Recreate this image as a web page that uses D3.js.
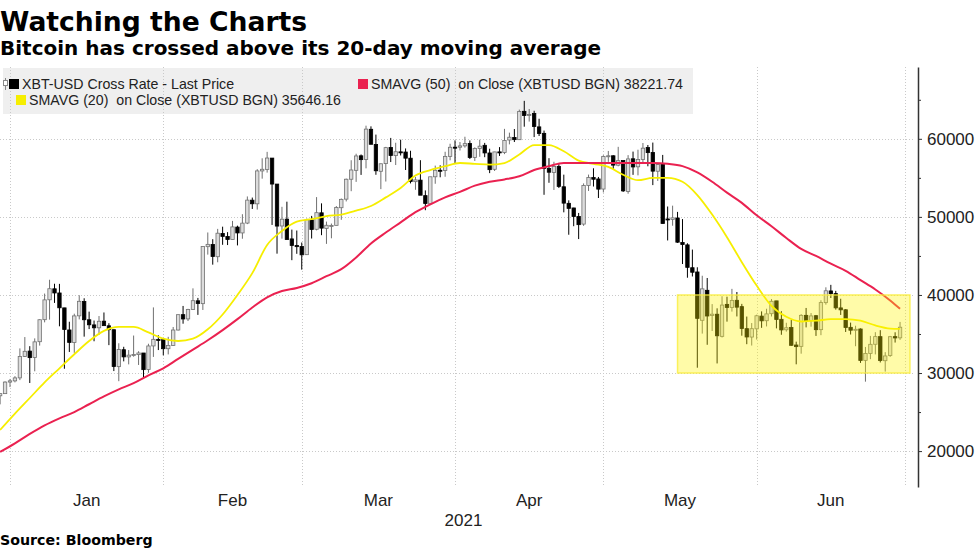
<!DOCTYPE html>
<html><head><meta charset="utf-8">
<script src="https://cdn.jsdelivr.net/npm/d3@7"></script>
<style>
body{margin:0;background:#fff;}
svg{display:block;}
.pre{white-space:pre;}
</style></head><body>
<svg id="c" width="977" height="549"></svg>
<script>
// ---------- data ----------
const title = "Watching the Charts";
const subtitle = "Bitcoin has crossed above its 20-day moving average";
const sourceText = "Source: Bloomberg";
const firstDate = "2020-12-29";
// daily [open, high, low, close], XBT-USD, from 2020-12-29 to 2021-06-29
const ohlc = [
[27081,27370,25987,27362],[27360,28937,27360,28841],[28841,29244,28201,29001],
[28994,29600,28803,29374],[29376,33155,29091,32127],[32129,34608,32052,32782],[32810,33440,28722,31971],
[31977,34437,30221,33992],[34013,36879,33514,36824],[36833,40180,36491,39371],[39381,41946,36838,40797],
[40788,41436,38980,40254],[40254,41420,35984,38356],[38346,38346,30549,35566],[35516,36568,32697,33922],
[33915,37600,32584,37316],[37325,39966,36868,39187],[39156,39577,34659,36825],[36821,37864,35633,36178],
[36163,36722,34069,35792],[35792,37299,34883,36630],[36642,37755,36069,36069],[36050,36378,33570,35548],
[35549,35553,30250,30826],[30817,33812,28953,33005],[32985,33360,31493,32067],[32064,32944,31106,32289],
[32285,34802,32087,32366],[32358,32794,31030,32569],[32565,32565,29367,30432],[30441,33750,30023,33466],
[33470,38406,32064,34316],[34295,34834,32940,34269],[34270,34288,32270,33114],
[33115,34638,32384,33537],[33533,35896,33489,35510],[35510,37480,35443,37473],[37476,38592,36317,36926],
[36931,38225,36658,38144],[38138,40846,38138,39266],[39250,39621,37446,38903],[38886,46204,38076,46196],
[46184,48003,45166,46481],[46469,47145,43881,44918],[44898,48463,44187,47909],[47877,48745,46424,47504],
[47491,48047,46392,47105],[47114,49487,47114,48717],[48696,48875,46347,47945],[47944,50341,47201,49199],
[49207,52619,49072,52149],[52140,52474,51015,51679],[51675,56113,50937,55888],[55887,57506,54894,56099],
[56068,58330,55672,57539],[57532,57533,48967,54207],[54204,54204,45290,48824],[48835,51290,47213,49705],
[49709,51948,47093,47093],[47180,48371,44454,46339],[46344,48254,45269,46188],[46195,46717,43241,45137],
[45159,49784,45115,49631],[49612,50127,47228,48378],[48415,52535,48274,50538],[50522,51735,47656,48561],
[48527,49396,46542,48927],[48899,49147,47257,48912],[48918,51384,48918,51206],[51175,52356,49624,52246],
[52273,54904,51981,54824],[54824,57258,53291,56008],[55963,58091,54484,57805],[57821,57996,55376,57332],
[57343,61683,56217,61243],[61221,61597,59302,59302],[59267,60540,55393,55907],[55840,56833,53555,56804],
[56825,58969,54528,58870],[58893,60117,57023,57858],[57850,59498,56643,58346],[58332,59888,57867,58313],
[58309,58767,56005,57523],[57517,58471,54288,54529],[54512,55115,53470,54738],[54710,57263,52973,52774],
[52726,53392,50856,51704],[51683,55137,51579,55137],[55137,56568,54242,55974],[55974,56610,55072,55947],
[55947,58342,55140,57750],[57751,59369,57249,58918],[58931,59800,56873,58918],
[58926,59586,58505,59095],[59099,60267,58869,59384],[59398,59795,57413,57604],[57604,58913,57168,58758],
[58760,59891,57694,59057],[59171,59479,57646,58192],[58186,58731,55604,56049],[56099,58338,55879,58323],
[58326,58937,57807,58245],[58253,61276,58038,59794],[59846,60790,59289,60204],[60175,61254,59589,59893],
[59890,63742,59869,63503],[63523,64863,61554,62985],[63075,63821,62208,63110],[63258,63594,60222,61572],
[61529,62572,60361,60683],[60701,61057,52829,56216],[56191,57520,54368,55724],[55681,57062,53448,56473],
[56471,56757,53695,53906],[53857,55410,50583,51762],[51739,52120,47714,51093],[51143,51167,48806,50050],
[50053,50506,47159,49004],[49077,54288,48852,54021],[54030,55416,53319,55033],[55036,56228,53887,54824],
[54858,55115,52418,53555],[53568,57900,53129,57750],
[57714,58448,57052,57828],[57825,57902,56141,56631],[56620,58973,56478,57200],[57215,57215,53191,53333],
[53252,57912,52969,57424],[57441,58363,55382,56396],[56413,58606,55321,57356],[57352,59464,56975,58803],
[58877,59210,56482,58232],[58250,59519,54071,55859],[55847,56872,54608,56704],[56714,57939,49150,49150],
[49735,51330,46980,49716],[49682,51438,48868,49880],[49855,50639,46664,46760],[46716,49720,43963,46456],
[46415,46623,42207,43537],[43488,45812,42367,42909],[42944,43546,30681,37002],[36753,42462,35050,40782],
[40596,42172,33616,37304],[37371,38831,35383,37536],[37531,38289,31227,34770],[34700,39836,34551,38705],
[38795,39777,36581,38402],[38392,40782,37868,39294],[39316,40379,37247,38436],[38507,38856,34779,35698],
[35684,37234,33693,34617],[34607,36400,33520,35678],[35659,37469,34287,37332],
[37293,37896,35787,36684],[36699,38231,35966,37575],[37599,39478,37243,39188],[39242,39242,35717,36851],
[36880,37917,34900,35520],[35539,36436,35304,35797],[35835,36790,33480,33552],[33589,34017,31114,33380],
[33417,37537,32476,37389],[37390,38334,35847,36703],[36698,37681,35937,37314],[37341,37438,34752,35551],
[35555,39322,34848,39020],[39015,40978,38757,40534],[40516,41295,39609,40165],[40173,40528,38118,38349],
[38341,39513,37439,38093],[38100,38187,35256,35820],[35854,36457,34933,35484],[35563,36059,33432,35601],
[35641,35721,31295,31608],[31623,33340,28893,32510],[32515,34753,31773,33678],[33682,35236,32386,34663],
[34659,35487,31351,31595],[31577,32673,30184,32186],[32241,34749,32071,34650],[34663,35219,33902,34495],
[34507,36542,34252,35868]
];
// moving averages (USD)
const smaDates = ["2020-12-29","2021-01-01","2021-01-04","2021-01-07","2021-01-10","2021-01-13","2021-01-16",
"2021-01-19","2021-01-22","2021-01-25","2021-01-28","2021-01-31","2021-02-03","2021-02-06","2021-02-09",
"2021-02-12","2021-02-15","2021-02-18","2021-02-21","2021-02-24","2021-02-27","2021-03-02","2021-03-05",
"2021-03-08","2021-03-11","2021-03-14","2021-03-17","2021-03-20","2021-03-23","2021-03-26","2021-03-29",
"2021-04-01","2021-04-04","2021-04-07","2021-04-10","2021-04-13","2021-04-16","2021-04-19","2021-04-22",
"2021-04-25","2021-04-28","2021-05-01","2021-05-04","2021-05-07","2021-05-10","2021-05-13","2021-05-16",
"2021-05-19","2021-05-22","2021-05-25","2021-05-28","2021-05-31","2021-06-03","2021-06-06","2021-06-09",
"2021-06-12","2021-06-15","2021-06-18","2021-06-21","2021-06-24","2021-06-27","2021-06-29"];
const sma20 = [22700,24800,26800,28800,30600,32400,34100,35400,35900,35900,35200,34400,34100,34400,35600,
37500,40000,42800,46400,48200,49400,49700,50100,50300,50800,51400,52500,53700,55300,56000,56500,
56900,56800,56700,56900,58000,59200,59200,58400,57200,56800,56400,55400,54700,55000,55000,54500,
52800,50300,47400,44200,41200,38600,37200,36600,36700,36900,36900,36700,36100,35700,35646];
const sma50 = [19900,21000,22200,23300,24200,25000,26000,27000,27900,28700,29700,30600,31800,33000,34200,
35500,36900,38400,39700,40500,40900,41500,42400,43300,44800,46600,48000,49300,50600,51600,52500,
53200,54000,54500,54800,55200,56000,56500,56900,56900,56900,56900,56900,56900,56900,56800,56500,
55700,54500,53100,51800,50200,48800,47300,45900,45000,44000,43100,41900,40700,39300,38222];
const yTicks = [20000,30000,40000,50000,60000];
const yMinorTicks = [25000,35000,45000,55000,65000];
const monthStarts = ["2021-01-01","2021-02-01","2021-03-01","2021-04-01","2021-05-01","2021-06-01","2021-07-01"];
const monthLabels = ["Jan","Feb","Mar","Apr","May","Jun"];
const yearLabel = "2021";
const highlightDates = ["2021-05-16","2021-07-02"];
const highlightRange = [30000,40000];
const legendLabels = ["XBT-USD Cross Rate - Last Price",
  "SMAVG (20)  on Close (XBTUSD BGN) 35646.16",
  "SMAVG (50)  on Close (XBTUSD BGN) 38221.74"];

// ---------- drawing ----------
const parse = d3.utcParse("%Y-%m-%d");
const svg = d3.select("#c");
const FONT = "'Liberation Sans', Arial, sans-serif";
const BOLD = "'DejaVu Sans', Verdana, sans-serif";

const x = d3.scaleUtc().domain([parse(monthStarts[0]), parse(monthStarts[6])]).range([10, 905]);
const y = d3.scaleLinear().domain([15400, 69200]).range([487, 67]);
const barPos = d => x(d3.utcDay.offset(d, 1));

const start = parse(firstDate);
const candles = ohlc.map((r, i) => ({date: d3.utcDay.offset(start, i), o: r[0], h: r[1], l: r[2], c: r[3]}));

// titles
svg.append("text").attr("x", 0).attr("y", 31).attr("font-family", BOLD).attr("font-weight", "bold")
  .attr("font-size", 26.6).attr("fill", "#000").text(title);
svg.append("text").attr("x", 0).attr("y", 55).attr("font-family", BOLD).attr("font-weight", "bold")
  .attr("font-size", 20).attr("fill", "#000").text(subtitle);

// legend background
svg.append("rect").attr("x", 3).attr("y", 68).attr("width", 690).attr("height", 46).attr("fill", "#efefef");

// grid
const grid = svg.append("g").attr("stroke", "#c9c9c9").attr("stroke-width", 1).attr("stroke-dasharray", "1,2");
grid.selectAll("line.h").data(yTicks).join("line")
  .attr("x1", 0).attr("x2", 913).attr("y1", d => Math.round(y(d)) + 0.5).attr("y2", d => Math.round(y(d)) + 0.5);
grid.selectAll("line.v").data(monthStarts).join("line")
  .attr("x1", d => Math.round(x(parse(d))) + 0.5).attr("x2", d => Math.round(x(parse(d))) + 0.5)
  .attr("y1", 67).attr("y2", 487);

// candles
const plot = svg.append("g");
const bw = 3.4;
const cg = plot.selectAll("g.c").data(candles).join("g");
cg.append("line")
  .attr("x1", d => barPos(d.date)).attr("x2", d => barPos(d.date))
  .attr("y1", d => y(d.h)).attr("y2", d => y(d.l))
  .attr("stroke", d => d.c >= d.o ? "#707070" : "#000").attr("stroke-width", 1);
cg.append("rect")
  .attr("x", d => barPos(d.date) - bw / 2).attr("width", bw)
  .attr("y", d => y(Math.max(d.o, d.c)))
  .attr("height", d => Math.max(1, Math.abs(y(d.o) - y(d.c))))
  .attr("fill", d => d.c >= d.o ? "#dcdcdc" : "#000")
  .attr("stroke", d => d.c >= d.o ? "#707070" : "#000").attr("stroke-width", 0.8);

// moving averages
const line = d3.line().x(d => barPos(d.date)).y(d => y(d.v)).curve(d3.curveMonotoneX);
const s20 = smaDates.map((d, i) => ({date: parse(d), v: sma20[i]}));
const s50 = smaDates.map((d, i) => ({date: parse(d), v: sma50[i]}));
plot.append("path").datum(s20).attr("d", line).attr("fill", "none").attr("stroke", "#f6ee00").attr("stroke-width", 1.8);
plot.append("path").datum(s50).attr("d", line).attr("fill", "none").attr("stroke", "#ea2150").attr("stroke-width", 2);

// highlight box
svg.append("rect")
  .attr("x", x(parse(highlightDates[0]))).attr("width", x(parse(highlightDates[1])) - x(parse(highlightDates[0])))
  .attr("y", y(highlightRange[1])).attr("height", y(highlightRange[0]) - y(highlightRange[1]))
  .attr("fill", "rgb(255,242,0)").attr("fill-opacity", 0.34)
  .attr("stroke", "rgb(250,238,60)").attr("stroke-opacity", 0.8).attr("stroke-width", 1.5);

// legend
const lg = svg.append("g").attr("font-family", FONT).attr("font-size", 14.2).attr("fill", "#222");
lg.append("line").attr("x1", 5.5).attr("x2", 5.5).attr("y1", 78).attr("y2", 90).attr("stroke", "#888");
lg.append("rect").attr("x", 3.5).attr("y", 80.5).attr("width", 4).attr("height", 5).attr("fill", "#fff").attr("stroke", "#888");
lg.append("rect").attr("x", 9).attr("y", 79).attr("width", 10).attr("height", 10).attr("fill", "#000");
lg.append("text").attr("class", "pre").attr("x", 22).attr("y", 89).text(legendLabels[0]);
lg.append("rect").attr("x", 16).attr("y", 95).attr("width", 10).attr("height", 10).attr("fill", "#f6ee00");
lg.append("text").attr("class", "pre").attr("x", 29).attr("y", 105).text(legendLabels[1]);
lg.append("rect").attr("x", 358).attr("y", 79).attr("width", 10).attr("height", 10).attr("fill", "#ea2150");
lg.append("text").attr("class", "pre").attr("x", 371).attr("y", 89).text(legendLabels[2]);

// right axis
const ax = svg.append("g").attr("transform", "translate(918,0)")
  .call(d3.axisRight(y).tickValues(yTicks).tickSize(4).tickSizeOuter(0).tickPadding(5).tickFormat(d3.format("d")));
ax.select(".domain").attr("stroke", "#333").attr("stroke-width", 1.5);
ax.selectAll(".tick line").attr("stroke", "#333");
ax.selectAll(".tick text").attr("font-family", FONT).attr("font-size", 17).attr("fill", "#222");
const axm = svg.append("g").attr("transform", "translate(918,0)")
  .call(d3.axisRight(y).tickValues(yMinorTicks).tickSize(3).tickSizeOuter(0).tickFormat(""));
axm.select(".domain").remove();
axm.selectAll(".tick line").attr("stroke", "#333");

// x labels
svg.append("g").selectAll("text").data(monthLabels).join("text")
  .attr("x", (d, i) => (x(parse(monthStarts[i])) + x(parse(monthStarts[i + 1]))) / 2)
  .attr("y", 506).attr("text-anchor", "middle")
  .attr("font-family", FONT).attr("font-size", 17).attr("fill", "#222").text(d => d);
svg.append("text").attr("x", (x.range()[0] + x.range()[1]) / 2 + 6).attr("y", 526).attr("text-anchor", "middle")
  .attr("font-family", FONT).attr("font-size", 17).attr("fill", "#222").text(yearLabel);

svg.append("text").attr("x", 0).attr("y", 545).attr("font-family", BOLD).attr("font-weight", "bold")
  .attr("font-size", 14.2).attr("fill", "#000").text(sourceText);
</script>
</body></html>
